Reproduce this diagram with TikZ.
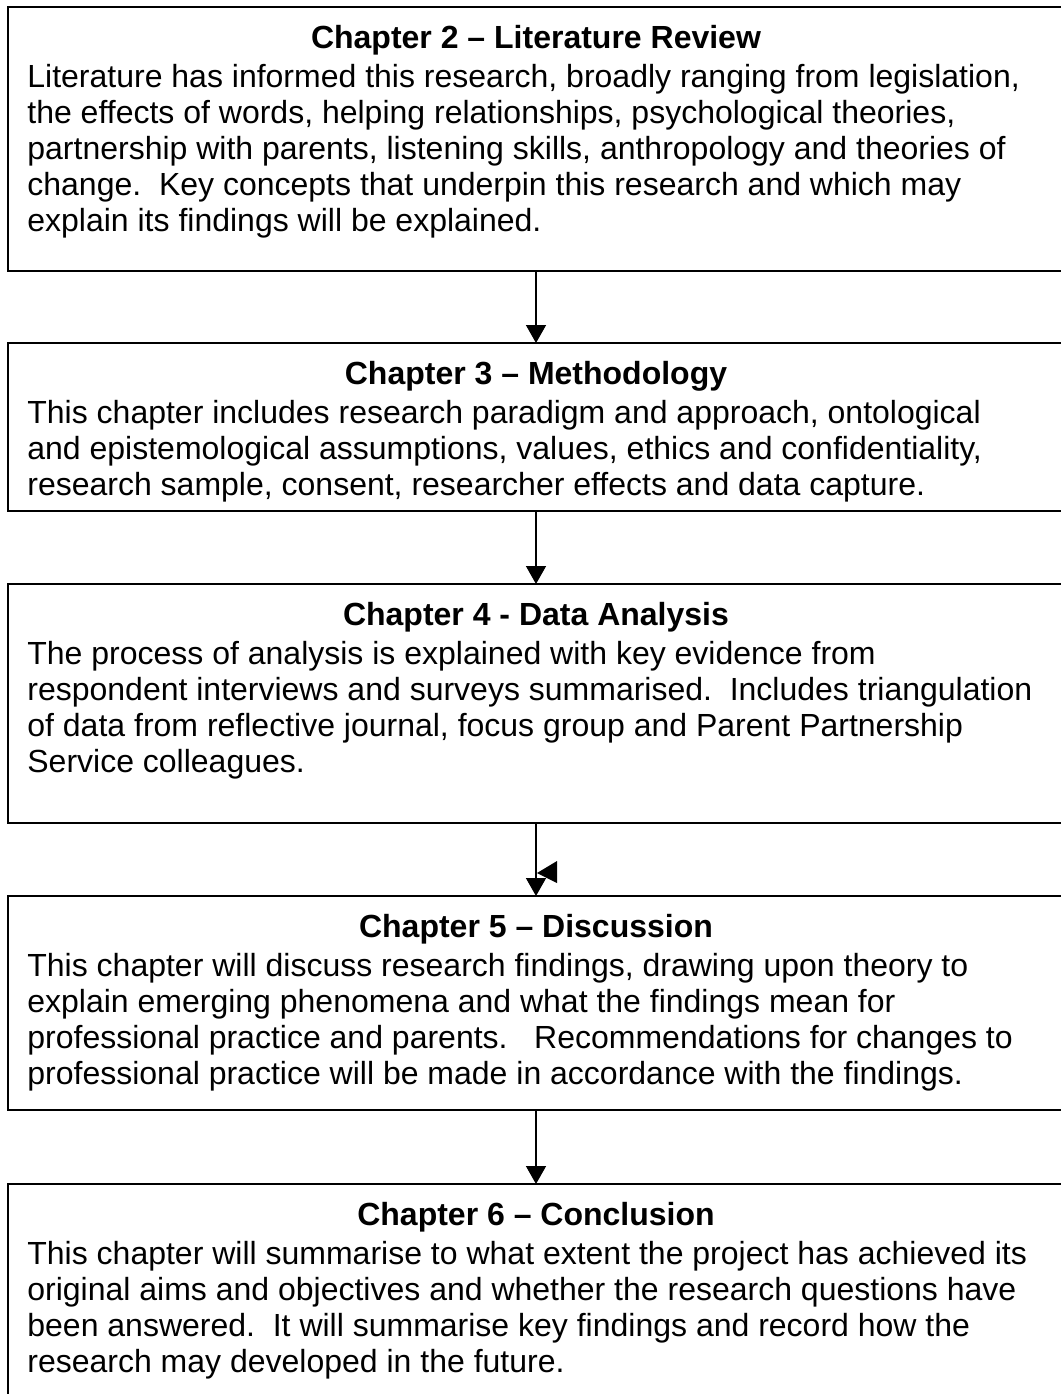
\documentclass[tikz,border=0pt]{standalone}
\usepackage{fontspec}
\setmainfont{Liberation Sans}
\usetikzlibrary{arrows.meta}
\frenchspacing
\begin{document}
\begin{tikzpicture}[x=0.5pt,y=-0.5pt,
  chbox/.style={draw=black, line width=1.3pt, anchor=north west, minimum width=528pt, inner sep=0pt, outer sep=0pt},
  headline/.style={anchor=base, inner sep=0pt, font=\fontsize{16}{18}\selectfont\bfseries},
  bodyline/.style={anchor=base west, inner sep=0pt, font=\fontsize{16}{18}\selectfont},
  flow/.style={line width=0.75pt, -{Triangle[width=10pt,length=9pt]}}]
\useasboundingbox (0,0) rectangle (1061,1394);
\fill[white] (0,0) rectangle (1061,1394);

% chapter boxes (right side and last bottom run past the page edge)
\node[chbox, minimum height=132pt] (c2) at (8,7) {};
\node[chbox, minimum height=84pt] (c3) at (8,343) {};
\node[chbox, minimum height=119.5pt] (c4) at (8,584) {};
\node[chbox, minimum height=107pt] (c5) at (8,896) {};
\node[chbox, minimum height=125pt] (c6) at (8,1184) {};

% Chapter 2
\node[headline] (h2) at (536,48) {Chapter 2 – Literature Review};
\node[bodyline] (l2a) at (27,87) {Literature has informed this research, broadly ranging from legislation,};
\node[bodyline] (l2b) at (27,123) {the effects of words, helping relationships, psychological theories,};
\node[bodyline] (l2c) at (27,159) {partnership with parents, listening skills, anthropology and theories of};
\node[bodyline] (l2d) at (27,195) {change.\ \ Key concepts that underpin this research and which may};
\node[bodyline] (l2e) at (27,231) {explain its findings will be explained.};

% Chapter 3
\node[headline] (h3) at (536,384) {Chapter 3 – Methodology};
\node[bodyline] (l3a) at (27,423) {This chapter includes research paradigm and approach, ontological};
\node[bodyline] (l3b) at (27,459) {and epistemological assumptions, values, ethics and confidentiality,};
\node[bodyline] (l3c) at (27,495) {research sample, consent, researcher effects and data capture.};

% Chapter 4
\node[headline] (h4) at (536,625) {Chapter 4 - Data Analysis};
\node[bodyline] (l4a) at (27,664) {The process of analysis is explained with key evidence from};
\node[bodyline] (l4b) at (27,700) {respondent interviews and surveys summarised.\ \ Includes triangulation};
\node[bodyline] (l4c) at (27,736) {of data from reflective journal, focus group and Parent Partnership};
\node[bodyline] (l4d) at (27,772) {Service colleagues.};

% Chapter 5
\node[headline] (h5) at (536,937) {Chapter 5 – Discussion};
\node[bodyline] (l5a) at (27,976) {This chapter will discuss research findings, drawing upon theory to};
\node[bodyline] (l5b) at (27,1012) {explain emerging phenomena and what the findings mean for};
\node[bodyline] (l5c) at (27,1048) {professional practice and parents.\ \ \ Recommendations for changes to};
\node[bodyline] (l5d) at (27,1084) {professional practice will be made in accordance with the findings.};

% Chapter 6
\node[headline] (h6) at (536,1225) {Chapter 6 – Conclusion};
\node[bodyline] (l6a) at (27,1264) {This chapter will summarise to what extent the project has achieved its};
\node[bodyline] (l6b) at (27,1300) {original aims and objectives and whether the research questions have};
\node[bodyline] (l6c) at (27,1336) {been answered.\ \ It will summarise key findings and record how the};
\node[bodyline] (l6d) at (27,1372) {research may developed in the future.};

% connectors
\draw[flow] (c2.south) -- (c3.north);
\draw[flow] (c3.south) -- (c4.north);
\draw[flow] (c4.south) -- (c5.north);
\draw[flow] (c5.south) -- (c6.north);

% loose arrowhead beside the third connector
\coordinate (s1) at (537,873);
\coordinate (s2) at (557,861);
\coordinate (s3) at (557,883);
\fill[black] (s1) -- (s2) -- (s3) -- cycle;
\end{tikzpicture}
\end{document}
